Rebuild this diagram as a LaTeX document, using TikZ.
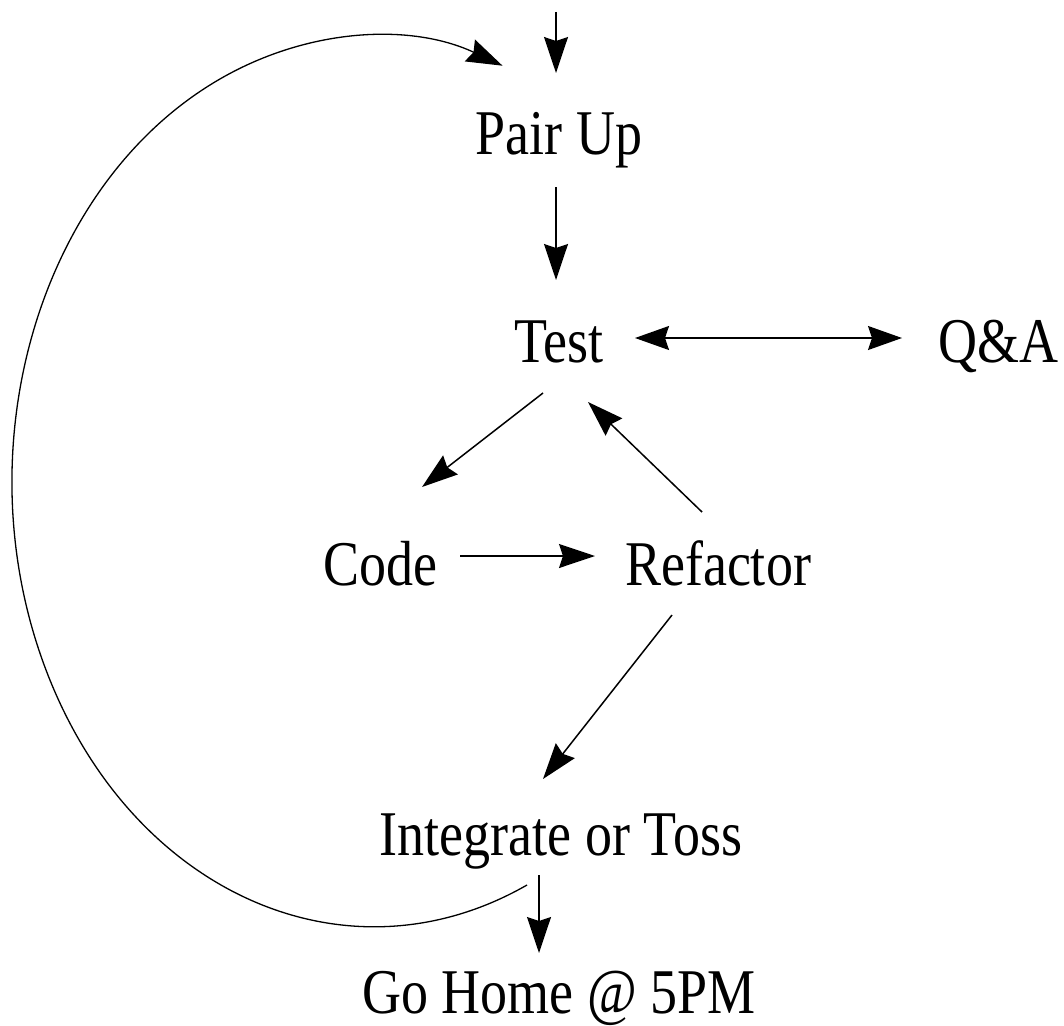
\documentclass[tikz,border=0pt]{standalone}
\usepackage{fontspec}
\setmainfont{Liberation Serif}
\usepackage{graphicx}
\usetikzlibrary{arrows.meta}
\newcommand{\tallt}[1]{\scalebox{1}[1.18]{#1}}
\begin{document}
\begin{tikzpicture}[x=1pt,y=-1pt,
  lbl/.style={anchor=base, inner sep=0pt, font=\fontsize{54}{60}\selectfont},
  arr/.style={line width=1.5pt, -{Stealth[length=36pt,width=24pt,inset=4pt]}},
  darr/.style={line width=1.5pt, {Stealth[length=34pt,width=24pt,inset=4pt]}-{Stealth[length=34pt,width=24pt,inset=4pt]}}]
\useasboundingbox (0,0) rectangle (1064,1025);
\node[lbl] (pair) at (559,154) {\tallt{Pair Up}};
\node[lbl] (test) at (559,362) {\tallt{Test}};
\node[lbl] (qa) at (998,362) {\tallt{Q\&A}};
\node[lbl] (code) at (380,585) {\tallt{Code}};
\node[lbl] (refactor) at (718,585) {\tallt{Refactor}};
\node[lbl] (integ) at (561,855) {\tallt{Integrate or Toss}};
\node[lbl] (home) at (559,1013) {\tallt{Go Home @ 5PM}};
\coordinate (entry) at (556,12);
\draw[arr] (entry) -- ([shift={(-3,-81)}]pair.base);
\draw[arr] ([shift={(-3,33)}]pair.base) -- ([shift={(-3,-82)}]test.base);
\draw[darr] ([shift={(76,-24)}]test.base) -- ([shift={(-96,-24)}]qa.base);
\draw[arr] ([shift={(-16,31)}]test.base) -- ([shift={(42,-98)}]code.base);
\draw[arr] ([shift={(-16,-73)}]refactor.base) -- ([shift={(29,40)}]test.base);
\draw[arr] ([shift={(80,-29)}]code.base) -- ([shift={(-123,-29)}]refactor.base);
\draw[arr] ([shift={(-46,30)}]refactor.base) -- ([shift={(-18,-76)}]integ.base);
\draw[arr] ([shift={(-22,20)}]integ.base) -- ([shift={(-20,-60)}]home.base);
\draw[arr, line width=1.3pt] ([shift={(-34,30)}]integ.base) arc[start angle=65, end angle=290.8, x radius=362, y radius=445];
\end{tikzpicture}
\end{document}
